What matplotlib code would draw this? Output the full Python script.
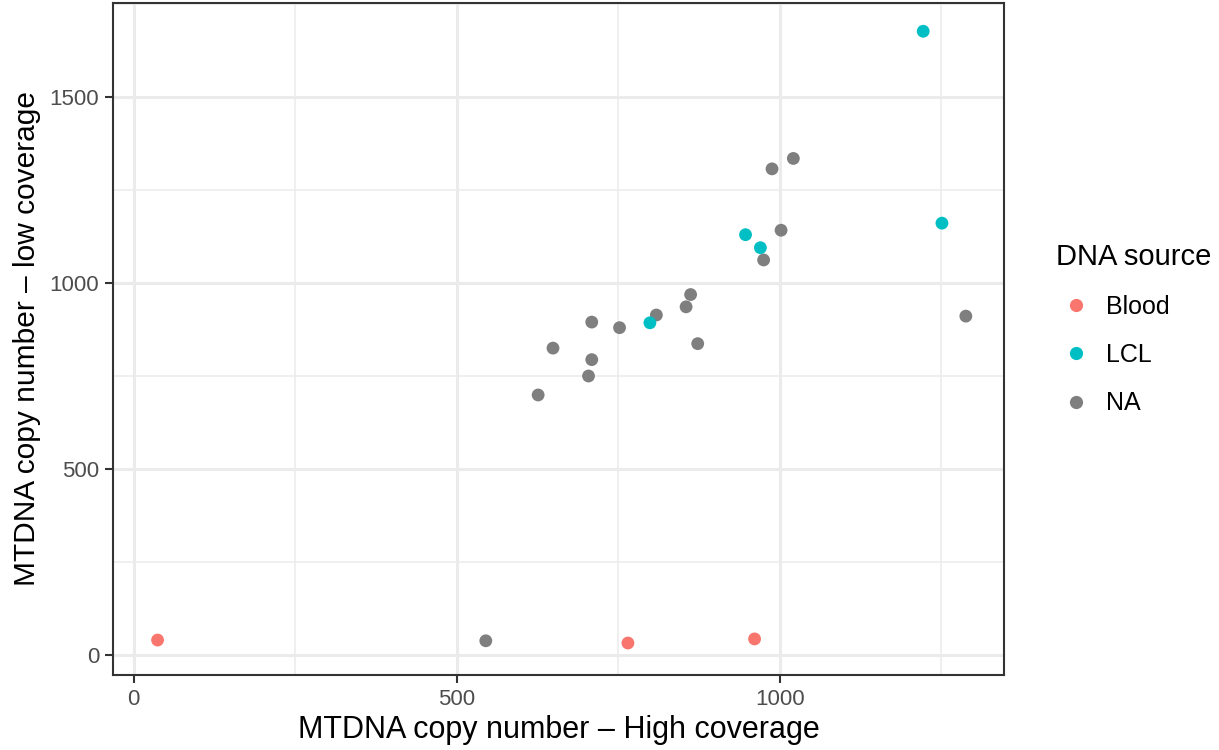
import matplotlib.pyplot as plt
from matplotlib.ticker import MultipleLocator

plt.rcParams["font.family"] = ["Liberation Sans", "DejaVu Sans"]

# MTDNA copy number estimates, high vs low coverage, by DNA source
blood_high = [37, 765, 961]
blood_low = [40, 32, 43]

lcl_high = [1222, 1251, 947, 970, 799]
lcl_low = [1677, 1161, 1130, 1095, 893]

na_high = [1021, 988, 1002, 975, 862, 855, 809, 709, 752, 873,
           649, 709, 704, 626, 1288, 545]
na_low = [1335, 1307, 1142, 1062, 969, 936, 914, 895, 880, 837,
          825, 794, 750, 699, 911, 38]

groups = ["Blood", "LCL", "NA"]
colors = {"Blood": "#F8766D", "LCL": "#00BFC4", "NA": "#7F7F7F"}

fig = plt.figure(figsize=(12.19, 7.5), dpi=100)
ax = fig.add_axes([0.0927, 0.1, 0.7309, 0.896])

series = {"Blood": (blood_high, blood_low),
          "LCL": (lcl_high, lcl_low),
          "NA": (na_high, na_low)}
for g in ["NA", "Blood", "LCL"]:
    xs, ys = series[g]
    ax.scatter(xs, ys, s=85, color=colors[g], edgecolors="none", zorder=3)

ax.set_xlim(-32, 1347)
ax.set_ylim(-54, 1753)
ax.xaxis.set_major_locator(MultipleLocator(500))
ax.xaxis.set_minor_locator(MultipleLocator(250))
ax.yaxis.set_major_locator(MultipleLocator(500))
ax.yaxis.set_minor_locator(MultipleLocator(250))
ax.grid(which="major", color="#EBEBEB", linewidth=2.2, zorder=0)
ax.grid(which="minor", color="#EBEBEB", linewidth=1.1, zorder=0)
ax.set_axisbelow(True)
ax.tick_params(which="minor", length=0)
ax.tick_params(which="major", length=6, width=1.5, color="#333333",
               labelsize=16, labelcolor="#4D4D4D", pad=4)
for sp in ax.spines.values():
    sp.set_color("#333333")
    sp.set_linewidth(1.5)

ax.set_xlabel("MTDNA copy number \u2013 High coverage", fontsize=22, labelpad=4)
ax.set_ylabel("MTDNA copy number \u2013 low coverage", fontsize=21.5, labelpad=6)

handles = [plt.Line2D([], [], marker="o", linestyle="none", markersize=9.5,
                      markerfacecolor=colors[g], markeredgecolor="none")
           for g in groups]
leg = ax.legend(handles, groups, title="DNA source", loc="center left",
                bbox_to_anchor=(1.047, 0.515), frameon=False, fontsize=18,
                title_fontsize=21, labelspacing=0.97, handletextpad=0.4,
                handlelength=1.6, borderaxespad=0)
leg._legend_box.align = "left"

fig.savefig("out.png", dpi=100)
